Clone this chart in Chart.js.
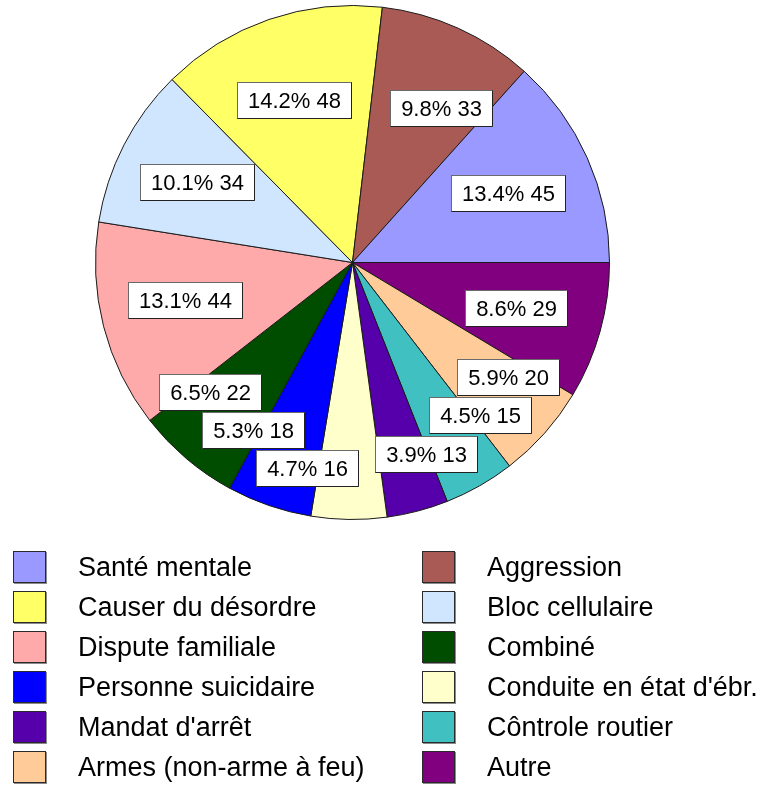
<!DOCTYPE html>
<html>
<head>
<meta charset="utf-8">
<script src="https://cdn.jsdelivr.net/npm/chart.js@4.4.0/dist/chart.umd.min.js"></script>
<style>
  html, body { margin: 0; padding: 0; background: #ffffff; }
  #wrap { position: relative; width: 764px; height: 785px; overflow: hidden; }
  #c { position: absolute; left: 0; top: 0; }
  .lg { position: absolute; height: 32px; display: flex; align-items: center;
        font-family: "Liberation Sans", Arial, sans-serif; font-size: 27px; color: #000; white-space: nowrap; }
  .sw { width: 31px; height: 30px; border: 1px solid #2a2a2a; box-shadow: 1px 1px 0 #8a8a8a; margin-right: 32px; flex: none; }
</style>
</head>
<body>
<div id="wrap">
  <canvas id="c" width="764" height="785"></canvas>
  <div id="legend"></div>
</div>
<script>
// ---- data (legend order; pie runs counter-clockwise from 3 o'clock in this order) ----
const categories = [
  "Santé mentale", "Aggression", "Causer du désordre", "Bloc cellulaire",
  "Dispute familiale", "Combiné", "Personne suicidaire", "Conduite en état d'ébr.",
  "Mandat d'arrêt", "Côntrole routier", "Armes (non-arme à feu)", "Autre"
];
const counts = [45, 33, 48, 34, 44, 22, 18, 16, 13, 15, 20, 29];
const colors = [
  "#9999FF", "#A95A55", "#FFFF66", "#D0E6FF",
  "#FFAAAA", "#004D00", "#0000FF", "#FFFFCC",
  "#5500AA", "#40C0C0", "#FFCC99", "#800080"
];

// ---- label placement (layout only): angle nudge in degrees (ccw +) and radius fraction ----
const labelAngleShift = [0, -5.6, 0.8, -0.2, -1.8, -7.5, -11.9, -11.7, 6.3, 10.3, 5.3, 0];
const labelRadiusFrac = [0.664, 0.694, 0.672, 0.681, 0.668, 0.748, 0.758, 0.820, 0.797, 0.774, 0.751, 0.660];

const total = counts.reduce((a, b) => a + b, 0);
const n = counts.length;
// Chart.js draws clockwise, so feed the series reversed to get a counter-clockwise pie
const rev = arr => arr.slice().reverse();

const boxLabels = {
  id: 'boxLabels',
  afterDatasetsDraw(chart) {
    const ctx = chart.ctx;
    const meta = chart.getDatasetMeta(0);
    ctx.save();
    ctx.font = '22px "Liberation Sans", Arial, sans-serif';
    ctx.textAlign = 'center';
    ctx.textBaseline = 'middle';
    meta.data.forEach((arc, j) => {
      const i = n - 1 - j; // original index
      const p = arc.getProps(['x', 'y', 'startAngle', 'endAngle', 'outerRadius'], true);
      const mid = (p.startAngle + p.endAngle) / 2 - labelAngleShift[i] * Math.PI / 180;
      const r = p.outerRadius * labelRadiusFrac[i];
      const cx = p.x + Math.cos(mid) * r;
      const cy = p.y + Math.sin(mid) * r;
      const txt = (counts[i] / total * 100).toFixed(1) + '% ' + counts[i];
      const w = Math.round(ctx.measureText(txt).width + 21);
      const h = 36;
      const x0 = Math.round(cx - w / 2) + 0.5;
      const y0 = Math.round(cy - h / 2) + 0.5;
      ctx.fillStyle = '#ffffff';
      ctx.fillRect(x0, y0, w, h);
      ctx.strokeStyle = '#6a6a6a';
      ctx.lineWidth = 1;
      ctx.strokeRect(x0, y0, w, h);
      ctx.strokeStyle = '#222222';
      ctx.beginPath();
      ctx.moveTo(x0 + w, y0);
      ctx.lineTo(x0 + w, y0 + h);
      ctx.lineTo(x0, y0 + h);
      ctx.stroke();
      ctx.fillStyle = '#000000';
      ctx.fillText(txt, x0 + w / 2, y0 + h / 2 + 1);
    });
    ctx.restore();
  }
};

new Chart(document.getElementById('c'), {
  type: 'pie',
  data: {
    labels: rev(categories),
    datasets: [{
      data: rev(counts),
      backgroundColor: rev(colors),
      borderColor: '#1a1a1a',
      borderWidth: 1
    }]
  },
  options: {
    responsive: false,
    animation: false,
    rotation: 90,
    layout: { padding: { left: 95, right: 154, top: 5, bottom: 265 } },
    plugins: {
      legend: { display: false },
      tooltip: { enabled: false }
    },
    events: []
  },
  plugins: [boxLabels]
});

// ---- legend (two columns, row-major, same order as the data) ----
const legend = document.getElementById('legend');
categories.forEach((name, i) => {
  const col = i % 2, row = Math.floor(i / 2);
  const item = document.createElement('div');
  item.className = 'lg';
  item.style.left = (13 + col * 409) + 'px';
  item.style.top = (551 + row * 40) + 'px';
  const sw = document.createElement('span');
  sw.className = 'sw';
  sw.style.background = colors[i];
  const t = document.createElement('span');
  t.textContent = name;
  item.appendChild(sw);
  item.appendChild(t);
  legend.appendChild(item);
});
</script>
</body>
</html>
